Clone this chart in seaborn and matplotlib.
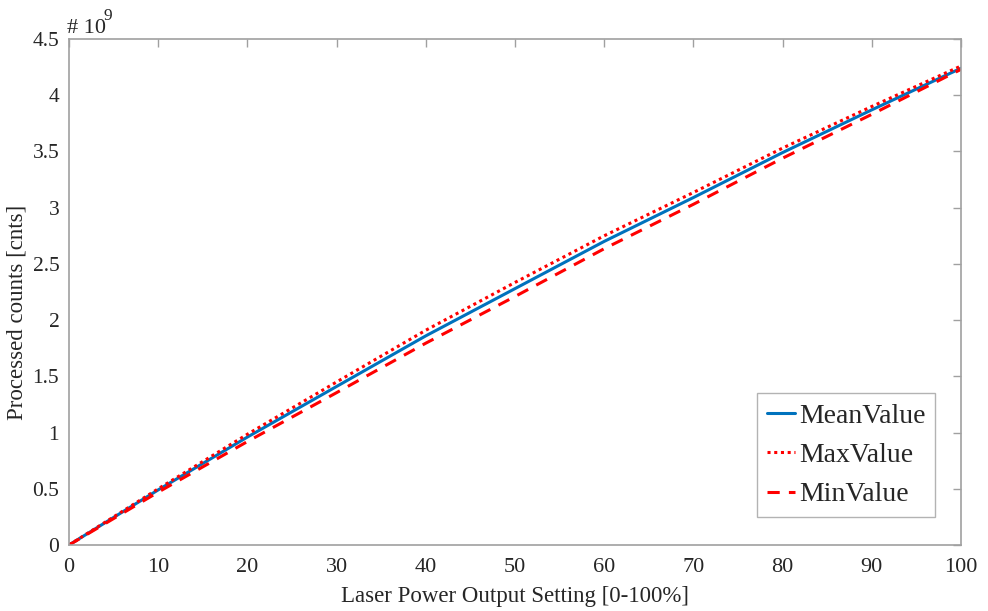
import matplotlib
matplotlib.use("Agg")
import matplotlib.pyplot as plt
import seaborn as sns
import pandas as pd

power = [0, 10, 20, 30, 40, 50, 60, 70, 80, 90, 100]
mean_value = [0.0, 0.49, 0.96, 1.41, 1.86, 2.28, 2.70, 3.09, 3.49, 3.87, 4.24]
max_value = [0.0, 0.50, 0.985, 1.45, 1.91, 2.335, 2.75, 3.135, 3.53, 3.90, 4.26]
min_value = [0.0, 0.47, 0.92, 1.355, 1.795, 2.21, 2.635, 3.03, 3.44, 3.83, 4.23]
y_ticks = [0, 0.5, 1, 1.5, 2, 2.5, 3, 3.5, 4, 4.5]
y_tick_labels = ["0", "0.5", "1", "1.5", "2", "2.5", "3", "3.5", "4", "4.5"]
x_ticks = [0, 10, 20, 30, 40, 50, 60, 70, 80, 90, 100]

sns.set_style("white")
plt.rcParams["font.family"] = ["Liberation Serif", "DejaVu Serif"]

df = pd.DataFrame({"x": power, "mean": mean_value, "max": max_value, "min": min_value})

fig = plt.figure(figsize=(9.88, 6.11), dpi=100)
ax = fig.add_axes([69/988, 1-545/611, (961-69)/988, (545-39)/611])

sns.lineplot(data=df, x="x", y="mean", ax=ax, color="#0072BD", lw=2.2, label="MeanValue")
sns.lineplot(data=df, x="x", y="max", ax=ax, color="#FF0000", lw=2.2, linestyle=(0, (1, 1.2)), label="MaxValue")
sns.lineplot(data=df, x="x", y="min", ax=ax, color="#FF0000", lw=2.2, linestyle=(0, (4, 3)), label="MinValue")

ax.set_xlim(0, 100)
ax.set_ylim(0, 4.5)
ax.set_xticks(x_ticks)
ax.set_xticklabels([str(v) for v in x_ticks])
ax.set_yticks(y_ticks)
ax.set_yticklabels(y_tick_labels)
ax.tick_params(direction="in", length=6, width=1, color="#a0a0a0", labelsize=16,
               top=True, right=True, labelcolor="#262626")
ax.tick_params(axis="x", pad=9)
ax.tick_params(axis="y", pad=7, labelsize=15.5)
for s in ax.spines.values():
    s.set_visible(True)
    s.set_color("#a0a0a0")
    s.set_linewidth(1.2)

ax.set_xlabel("Laser Power Output Setting [0-100%]", fontsize=16.5, color="#262626", labelpad=7)
ax.set_ylabel("Processed counts [cnts]", fontsize=16.5, color="#262626")
ax.yaxis.set_label_coords((27 - 69) / (961 - 69), (545 - 312) / (545 - 39))

fig.text(67/988, 1-33/611, "# 10", fontsize=16, color="#262626", ha="left", va="baseline")
fig.text(104/988, 1-20/611, "9", fontsize=12.5, color="#262626", ha="left", va="baseline")

leg = ax.legend(loc="lower right", fontsize=20,
                handlelength=1.0, handletextpad=0.15, borderpad=0.35, labelspacing=0.5,
                fancybox=False, frameon=True, borderaxespad=0)
leg.set_bbox_to_anchor((935/988, 1-517/611), transform=fig.transFigure)
leg.get_frame().set_edgecolor("#a0a0a0")
leg.get_frame().set_linewidth(1.0)

fig.savefig("out.png", dpi=100)
